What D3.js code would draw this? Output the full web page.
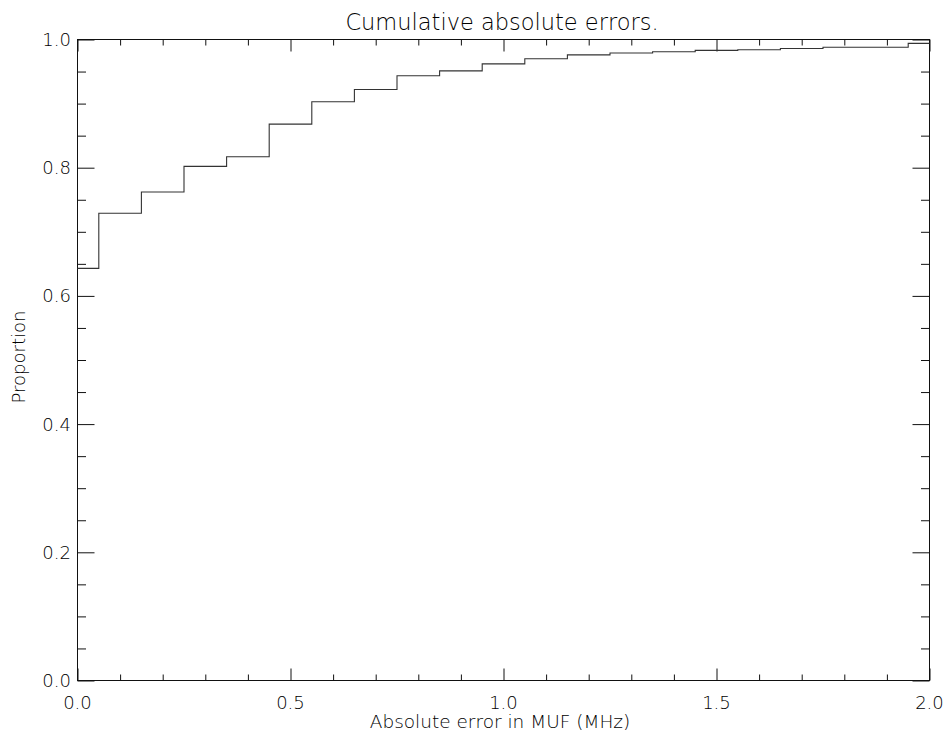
<!DOCTYPE html>
<html>
<head>
<meta charset="utf-8">
<script src="https://cdn.jsdelivr.net/npm/d3@7"></script>
<style>
  html, body { margin: 0; padding: 0; background: #fff; }
  svg { display: block; }
  text { font-family: "DejaVu Sans", "Liberation Sans", sans-serif; font-weight: 200; fill: #000; }
</style>
</head>
<body>
<svg id="chart" width="946" height="737"></svg>
<script>
// ---- data ----
const errorMHz = [0.0, 0.1, 0.2, 0.3, 0.4, 0.5, 0.6, 0.7, 0.8, 0.9, 1.0,
                  1.1, 1.2, 1.3, 1.4, 1.5, 1.6, 1.7, 1.8, 1.9, 2.0];
const proportion = [0.643, 0.729, 0.762, 0.802, 0.817, 0.868, 0.903, 0.922, 0.9435, 0.951, 0.962,
                    0.970, 0.976, 0.979, 0.981, 0.983, 0.984, 0.986, 0.988, 0.988, 0.994];
const xMajorTicks = [0.0, 0.5, 1.0, 1.5, 2.0];
const xMinorTicks = [0.1, 0.2, 0.3, 0.4, 0.6, 0.7, 0.8, 0.9, 1.1, 1.2, 1.3, 1.4, 1.6, 1.7, 1.8, 1.9];
const yMajorTicks = [0.0, 0.2, 0.4, 0.6, 0.8, 1.0];
const yMinorTicks = [0.05, 0.10, 0.15, 0.25, 0.30, 0.35, 0.45, 0.50, 0.55, 0.65, 0.70, 0.75, 0.85, 0.90, 0.95];
const titleText = "Cumulative absolute errors.";
const xLabel = "Absolute error in MUF (MHz)";
const yLabel = "Proportion";

// ---- layout ----
const svg = d3.select("#chart");
const pL = 77.5, pR = 929.5, pT = 39.5, pB = 680.5;

const x = d3.scaleLinear().domain([0, 2]).range([pL, pR]);
const y = d3.scaleLinear().domain([0, 1]).range([pB, pT]);

const ink = "#111";

// frame
svg.append("rect")
  .attr("x", pL).attr("y", pT)
  .attr("width", pR - pL).attr("height", pB - pT)
  .attr("fill", "none").attr("stroke", ink).attr("stroke-width", 1);

const fmt = d3.format(".1f");
function ticks(g, axis) {
  g.call(axis.tickFormat("")).call(s => s.select(".domain").remove());
}
// bottom
svg.append("g").attr("transform", `translate(0,${pB})`).call(ticks, d3.axisTop(x).tickValues(xMajorTicks).tickSize(12));
svg.append("g").attr("transform", `translate(0,${pB})`).call(ticks, d3.axisTop(x).tickValues(xMinorTicks).tickSize(6));
// top
svg.append("g").attr("transform", `translate(0,${pT})`).call(ticks, d3.axisBottom(x).tickValues(xMajorTicks).tickSize(12));
svg.append("g").attr("transform", `translate(0,${pT})`).call(ticks, d3.axisBottom(x).tickValues(xMinorTicks).tickSize(6));
// left
svg.append("g").attr("transform", `translate(${pL},0)`).call(ticks, d3.axisRight(y).tickValues(yMajorTicks).tickSize(17));
svg.append("g").attr("transform", `translate(${pL},0)`).call(ticks, d3.axisRight(y).tickValues(yMinorTicks).tickSize(8.5));
// right
svg.append("g").attr("transform", `translate(${pR},0)`).call(ticks, d3.axisLeft(y).tickValues(yMajorTicks).tickSize(17));
svg.append("g").attr("transform", `translate(${pR},0)`).call(ticks, d3.axisLeft(y).tickValues(yMinorTicks).tickSize(8.5));

svg.selectAll(".tick line").attr("stroke", ink).attr("stroke-width", 1);

// tick labels
svg.append("g").selectAll("text").data(xMajorTicks).join("text")
  .attr("x", d => x(d)).attr("y", 708.5)
  .attr("text-anchor", "middle").attr("font-size", 18)
  .text(d => fmt(d));
svg.append("g").selectAll("text").data(yMajorTicks).join("text")
  .attr("x", 71).attr("y", d => y(d) + 6.5)
  .attr("text-anchor", "end").attr("font-size", 18)
  .text(d => fmt(d));

// titles
svg.append("text").attr("x", 502).attr("y", 30)
  .attr("text-anchor", "middle").attr("font-size", 22.5).text(titleText);
svg.append("text").attr("x", 500).attr("y", 727.5)
  .attr("text-anchor", "middle").attr("font-size", 18.5).text(xLabel);
svg.append("text").attr("transform", "translate(25,357) rotate(-90)")
  .attr("text-anchor", "middle").attr("font-size", 18).text(yLabel);

// step line (histogram mode: steps at midpoints between samples)
const pts = errorMHz.map((d, i) => [d, proportion[i]]);
const line = d3.line().x(d => x(d[0])).y(d => y(d[1])).curve(d3.curveStep);
svg.append("path").datum(pts)
  .attr("d", line)
  .attr("fill", "none").attr("stroke", "#333").attr("stroke-width", 1.1);
</script>
</body>
</html>
